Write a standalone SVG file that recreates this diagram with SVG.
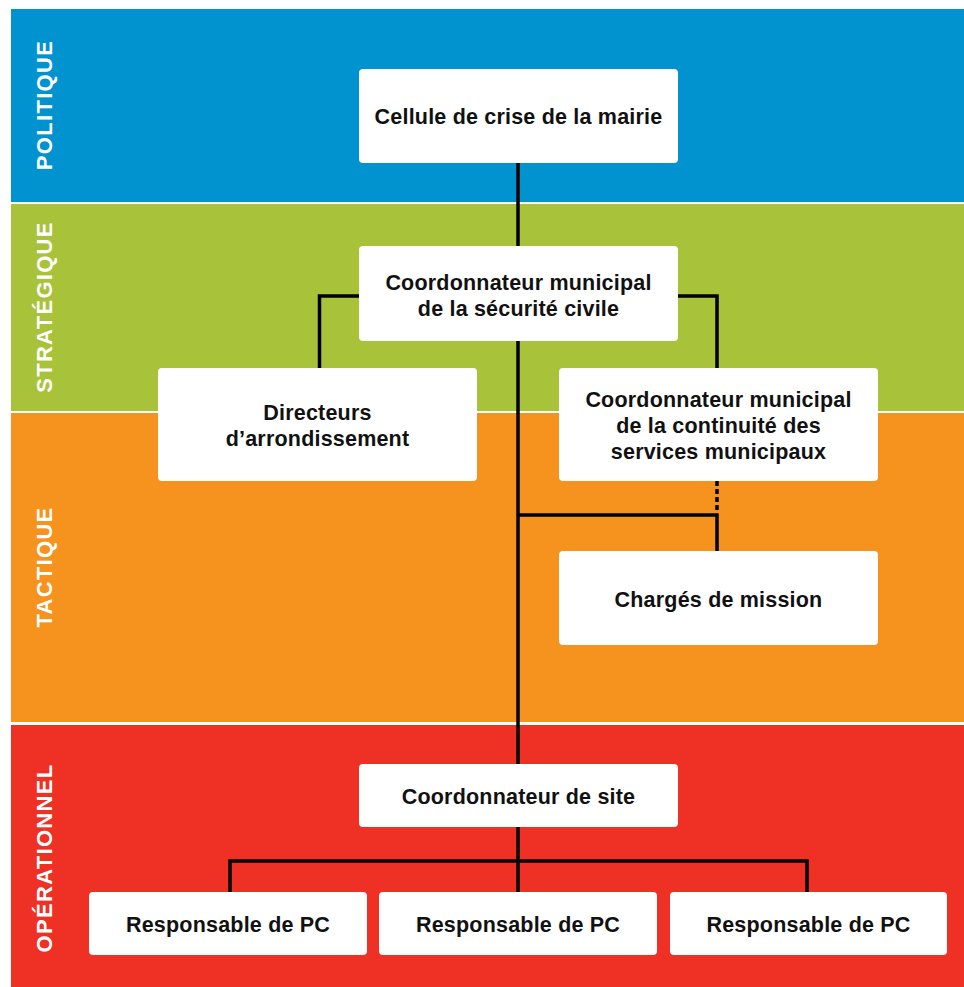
<svg xmlns="http://www.w3.org/2000/svg" width="964" height="987" viewBox="0 0 964 987">
<style>
.box{fill:#fff;}
.t{font-family:"Liberation Sans",Arial,sans-serif;font-weight:bold;font-size:21.5px;letter-spacing:0.2px;fill:#111;text-anchor:middle;}
.band{font-family:"Liberation Sans",Arial,sans-serif;font-weight:bold;font-size:22px;letter-spacing:1.3px;fill:#fff;text-anchor:middle;}
.ln{fill:none;stroke:#000;stroke-width:3.5;}
</style>
<rect width="964" height="987" fill="#fff"/>
<g id="bands">
<rect x="11" y="9" width="953" height="193" fill="#0093D0"/>
<rect x="11" y="204" width="953" height="207" fill="#A8C23A"/>
<rect x="11" y="413" width="953" height="309" fill="#F6921E"/>
<rect x="11" y="725" width="953" height="262" fill="#EE3124"/>
<text class="band" transform="translate(52,105) rotate(-90)">POLITIQUE</text>
<text class="band" transform="translate(52,307) rotate(-90)">STRATÉGIQUE</text>
<text class="band" transform="translate(52,567) rotate(-90)">TACTIQUE</text>
<text class="band" transform="translate(52,858) rotate(-90)">OPÉRATIONNEL</text>
</g>
<g id="connectors">
<path class="ln" d="M518,163V246M518,341V764M518,827V892"/>
<path class="ln" d="M359,296H319.5V368"/>
<path class="ln" d="M678,296H717V368"/>
<path class="ln" d="M518,515H717V551"/>
<path class="ln" d="M717,481V513" stroke-dasharray="5 3"/>
<path class="ln" d="M230,892V861H807V892"/>
</g>
<g id="n1"><rect class="box" x="359" y="69" width="319" height="94" rx="4"/><text class="t" x="518.5" y="124">Cellule de crise de la mairie</text></g>
<g id="n2"><rect class="box" x="359" y="246" width="319" height="95" rx="4"/><text class="t" x="518.5" y="290">Coordonnateur municipal</text><text class="t" x="518.5" y="316">de la sécurité civile</text></g>
<g id="n3"><rect class="box" x="158" y="368" width="319" height="113" rx="4"/><text class="t" x="317.5" y="420">Directeurs</text><text class="t" x="317.5" y="446">d’arrondissement</text></g>
<g id="n4"><rect class="box" x="559" y="368" width="319" height="113" rx="4"/><text class="t" x="718.5" y="407">Coordonnateur municipal</text><text class="t" x="718.5" y="433">de la continuité des</text><text class="t" x="718.5" y="459">services municipaux</text></g>
<g id="n5"><rect class="box" x="559" y="551" width="319" height="94" rx="4"/><text class="t" x="718.5" y="607">Chargés de mission</text></g>
<g id="n6"><rect class="box" x="359" y="764" width="319" height="63" rx="4"/><text class="t" x="518.5" y="804">Coordonnateur de site</text></g>
<g id="n7"><rect class="box" x="89" y="892" width="278" height="63" rx="4"/><text class="t" x="228" y="932">Responsable de PC</text></g>
<g id="n8"><rect class="box" x="379" y="892" width="278" height="63" rx="4"/><text class="t" x="518" y="932">Responsable de PC</text></g>
<g id="n9"><rect class="box" x="670" y="892" width="277" height="63" rx="4"/><text class="t" x="808.5" y="932">Responsable de PC</text></g>
</svg>
